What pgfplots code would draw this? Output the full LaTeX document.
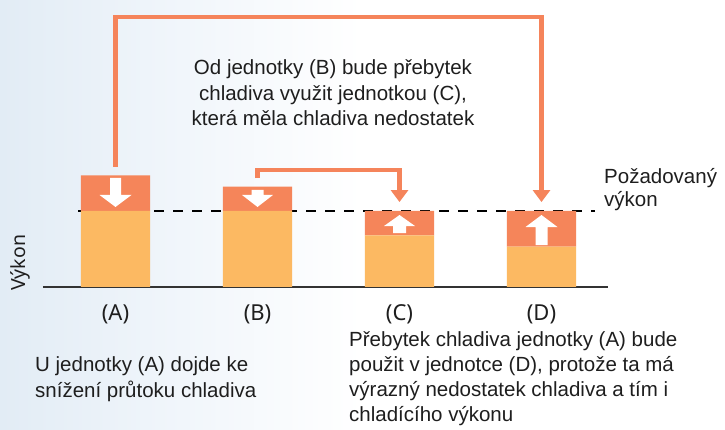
\documentclass[border=0pt]{standalone}
\usepackage{fontspec}
\setmainfont{Liberation Sans}
\newfontfamily\notosans{Noto Sans}
\usepackage{pgfplots}
\usepackage{pgfplotstable}
\pgfplotsset{compat=1.18}
\usetikzlibrary{arrows.meta}
\definecolor{lightbar}{HTML}{FCB962}
\definecolor{darkbar}{HTML}{F5855A}
\definecolor{arrowc}{HTML}{F5845B}
\definecolor{bgblue}{HTML}{E2ECF5}
\definecolor{bgmid}{HTML}{EEF4FA}
\definecolor{txt}{HTML}{1E1E1E}

\pgfplotstableread{
x base part
0 100 47
1 100 32
2 68 32
3 53 47
}\datatable

\begin{document}
\begin{tikzpicture}
% background gradient (axis box spans (0,0)--(725pt,430pt))
\fill[white] (0,0) rectangle (725pt,430pt);
\shade[left color=bgblue, right color=bgmid, draw=none] (0,0) rectangle (145pt,430pt);
\shade[left color=bgmid, right color=white, draw=none] (145pt,0) rectangle (362pt,430pt);
\begin{axis}[
  at={(0,0)}, anchor=south west,
  width=725pt, height=430pt, scale only axis,
  xmin=-0.8134, xmax=4.2923, ymin=-188.16, ymax=377.63,
  axis x line=middle, axis y line=none,
  x axis line style={draw=none},
  xtick={0,1,2,3}, xticklabels={(A),(B),(C),(D)},
  xtick style={draw=none},
  xticklabel style={font=\notosans\fontsize{22}{22}\selectfont, text=txt, anchor=base, yshift=-31pt},
  ytick=\empty,
  ybar stacked, bar width=0.486,
  clip=false,
]
\addplot[fill=lightbar, draw=none] table[x=x, y=base] {\datatable};
\addplot[fill=darkbar, draw=none] table[x=x, y=part] {\datatable};

\coordinate (tA) at (axis cs:0,105.3);
\coordinate (tB) at (axis cs:1,105.3);
\coordinate (tC) at (axis cs:2,94.7);
\coordinate (tD) at (axis cs:3,94.7);
\coordinate (ylab) at (axis cs:-0.6373,-5.26);

% baseline and required level
\draw[color=black!80, line width=1.6pt] (axis cs:-0.511,0) -- (axis cs:3.468,0);
\draw[black, line width=1.3pt, dash pattern=on 10pt off 9pt] (axis cs:-0.264,100) -- (axis cs:3.377,100);

% transfer arrows
\draw[arrowc, line width=4.5pt, line join=miter, -{Triangle[length=12pt,width=17pt]}]
  (axis cs:0,157.9) -- (axis cs:0,355.3) -- (axis cs:3,355.3) -- (axis cs:3,111.8);
\draw[arrowc, line width=4.5pt, line join=miter, -{Triangle[length=12pt,width=17pt]}]
  (axis cs:1,143.4) -- (axis cs:1,153.9) -- (axis cs:2,153.9) -- (axis cs:2,111.8);

% texts
\node[text=txt, inner sep=0pt, font=\fontsize{20.5}{24}\selectfont, anchor=base] at (axis cs:1.5317,278.95) {Od jednotky (B) bude přebytek};
\node[text=txt, inner sep=0pt, font=\fontsize{20.5}{24}\selectfont, anchor=base] at (axis cs:1.5317,245.39) {chladiva využit jednotkou (C),};
\node[text=txt, inner sep=0pt, font=\fontsize{20.5}{24}\selectfont, anchor=base] at (axis cs:1.5317,211.84) {která měla chladiva nedostatek};
\node[text=txt, inner sep=0pt, font=\fontsize{20.5}{24}\selectfont, anchor=base west] at (axis cs:3.4401,135.53) {Požadovaný};
\node[text=txt, inner sep=0pt, font=\fontsize{20.5}{24}\selectfont, anchor=base west] at (axis cs:3.4401,105.26) {výkon};
\node[text=txt, inner sep=0pt, font=\fontsize{20.5}{24}\selectfont, anchor=base west] at (axis cs:-0.5669,-111.84) {U jednotky (A) dojde ke};
\node[text=txt, inner sep=0pt, font=\fontsize{20.5}{24}\selectfont, anchor=base west] at (axis cs:-0.5669,-146.05) {snížení průtoku chladiva};
\node[text=txt, inner sep=0pt, font=\fontsize{20.5}{24}\selectfont, anchor=base west] at (axis cs:1.6444,-78.95) {Přebytek chladiva jednotky (A) bude};
\node[text=txt, inner sep=0pt, font=\fontsize{20.5}{24}\selectfont, anchor=base west] at (axis cs:1.6444,-111.84) {použit v jednotce (D), protože ta má};
\node[text=txt, inner sep=0pt, font=\fontsize{20.5}{24}\selectfont, anchor=base west] at (axis cs:1.6444,-144.74) {výrazný nedostatek chladiva a tím i};
\node[text=txt, inner sep=0pt, font=\fontsize{20.5}{24}\selectfont, anchor=base west] at (axis cs:1.6444,-177.63) {chladícího výkonu};
\end{axis}
% y label
\node[text=txt, inner sep=0pt, anchor=base west, rotate=90, font=\notosans\fontsize{19.5}{20}\selectfont] at (ylab) {Výkon};
% white arrows inside the bars
\fill[white] (tA) -- ++(-16pt,12pt) -- ++(10.5pt,0pt) -- ++(0pt,17pt) -- ++(11pt,0pt) -- ++(0pt,-17pt) -- ++(10.5pt,0pt) -- cycle;
\fill[white] (tB) -- ++(-15.5pt,12pt) -- ++(9.5pt,0pt) -- ++(0pt,5pt) -- ++(12pt,0pt) -- ++(0pt,-5pt) -- ++(9.5pt,0pt) -- cycle;
\fill[white] (tC) -- ++(-15.5pt,-11pt) -- ++(9pt,0pt) -- ++(0pt,-7pt) -- ++(13pt,0pt) -- ++(0pt,7pt) -- ++(9pt,0pt) -- cycle;
\fill[white] (tD) -- ++(-16pt,-12pt) -- ++(10pt,0pt) -- ++(0pt,-18pt) -- ++(12pt,0pt) -- ++(0pt,18pt) -- ++(10pt,0pt) -- cycle;
\end{tikzpicture}
\end{document}
